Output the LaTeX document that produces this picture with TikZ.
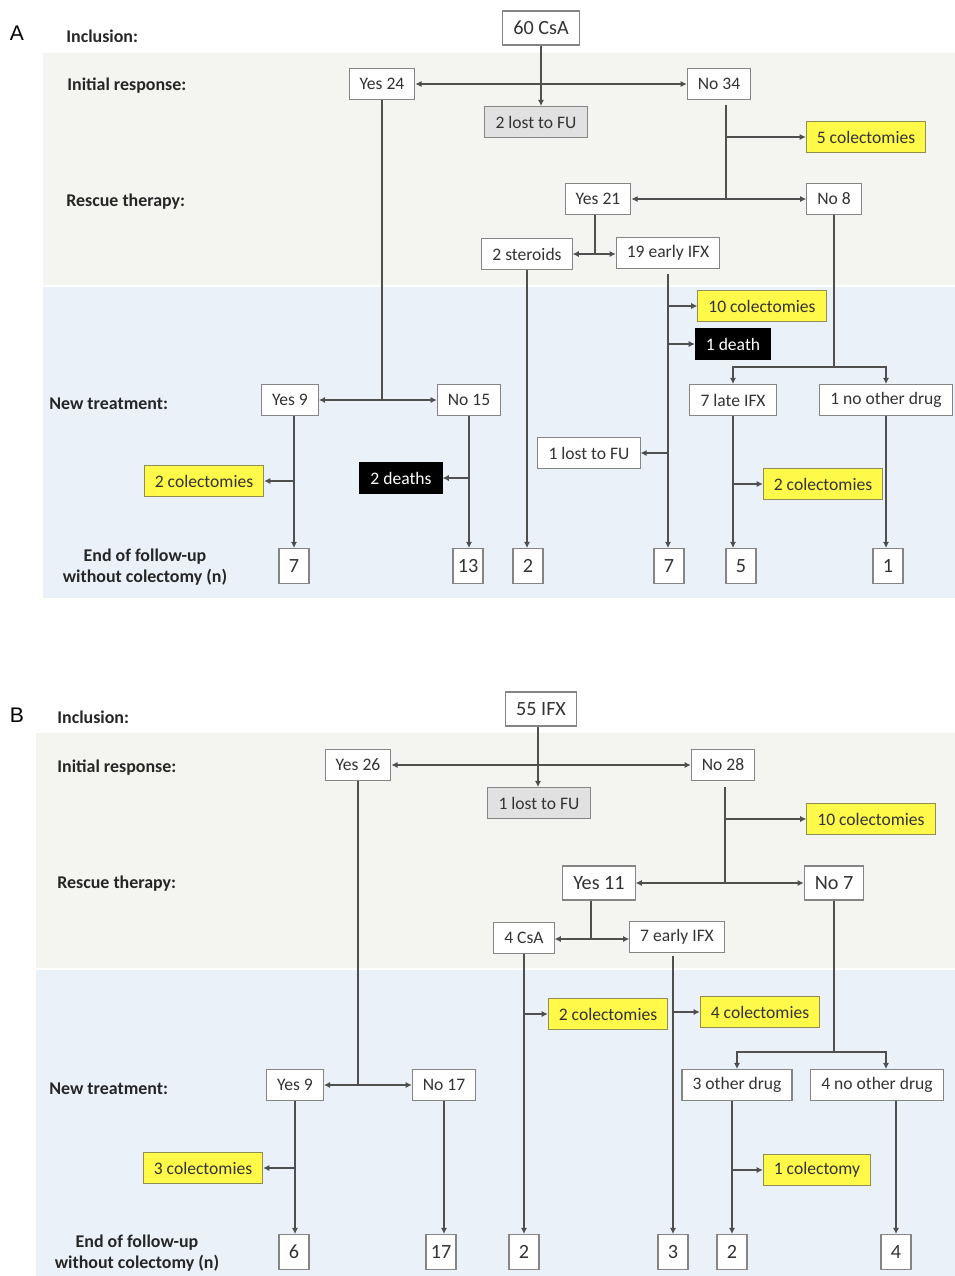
\documentclass[tikz,border=0pt]{standalone}
\usepackage{fontspec}
\setmainfont{Carlito}
\newfontfamily\panelfont{Liberation Sans}
\usetikzlibrary{arrows.meta}

\definecolor{bandgray}{HTML}{F4F4F1}
\definecolor{bandblue}{HTML}{EAF1F9}
\definecolor{boxline}{HTML}{858585}
\definecolor{flowline}{HTML}{4F4F4F}
\definecolor{hiyellow}{HTML}{FFF94A}
\definecolor{yelline}{HTML}{8F8F55}
\definecolor{lostgray}{HTML}{E1E1E1}
\definecolor{boxtext}{HTML}{333333}

\tikzset{
  box/.style={draw=boxline, fill=white, line width=0.6pt, inner xsep=6pt, inner ysep=0pt,
    minimum height=0.62cm, text=boxtext, font=\fontsize{10}{12}\selectfont},
  bigbox/.style={box, minimum height=0.68cm, font=\fontsize{11.5}{13}\selectfont},
  colbox/.style={box, fill=hiyellow, draw=yelline},
  deathbox/.style={box, fill=black, draw=black, text=white},
  lostbox/.style={box, fill=lostgray},
  endbox/.style={box, minimum width=0.6cm, minimum height=0.7cm, inner xsep=2pt,
    font=\fontsize{11.5}{13}\selectfont},
  rowlabel/.style={anchor=west, inner sep=0pt, text=black!85,
    font=\bfseries\fontsize{10.2}{12}\selectfont},
  endlabel/.style={align=center, inner sep=0pt, text=black!85,
    font=\bfseries\fontsize{10.2}{12.2}\selectfont},
  panel/.style={inner sep=0pt, font=\panelfont\fontsize{12}{14}\selectfont},
  flow/.style={draw=flowline, line width=0.6pt},
  arr/.style={flow, -{Latex[length=3.5pt,width=3.5pt]}},
  darr/.style={flow, {Latex[length=3.5pt,width=3.5pt]}-{Latex[length=3.5pt,width=3.5pt]}},
}

\begin{document}
\begin{tikzpicture}[x=0.02cm, y=-0.02cm]
  \useasboundingbox (0,0) rectangle (955,1276);

  % ===== Panel A: CsA =====
  \fill[bandgray] (43,53) rectangle (955,285);
  \fill[bandblue] (43,287) rectangle (955,598);
  \node[panel] (labA) at (17,33) {A};
  \node[rowlabel] (incA) at (66,36) {Inclusion:};
  \node[rowlabel] (iniA) at (67,86) {Initial response:};
  \node[rowlabel] (resA) at (66,202) {Rescue therapy:};
  \node[rowlabel] (newA) at (49,404) {New treatment:};
  \node[endlabel] (eofA) at (145,567) {End of follow-up\\without colectomy (n)};

  % boxes
  \node[bigbox] (csaA) at (541,28) {60 CsA};
  \node[box] (yesA) at (382,84) {Yes 24};
  \node[box] (noA) at (719,84) {No 34};
  \node[lostbox] (lostA) at (536,122) {2 lost to FU};
  \node[colbox] (colA1) at (866,137) {5 colectomies};
  \node[box] (yesRA) at (598,199) {Yes 21};
  \node[box] (noRA) at (834,199) {No 8};
  \node[box] (steA) at (527,254) {2 steroids};
  \node[box] (ifxA) at (668,253) {19 early IFX};
  \node[colbox] (colA2) at (762,306) {10 colectomies};
  \node[deathbox] (deathA1) at (733,344) {1 death};
  \node[box] (lateA) at (733,400) {7 late IFX};
  \node[box] (nodrugA) at (886,400) {1 no other drug};
  \node[box] (lostA2) at (589,453) {1 lost to FU};
  \node[colbox] (colA3) at (823,484) {2 colectomies};
  \node[box] (yesNA) at (290,400) {Yes 9};
  \node[box] (noNA) at (469,400) {No 15};
  \node[colbox] (colA4) at (204,481) {2 colectomies};
  \node[deathbox] (deathA2) at (401,478) {2 deaths};
  % end of follow-up
  \node[endbox] (endA1) at (294,566) {7};
  \node[endbox] (endA2) at (468,566) {13};
  \node[endbox] (endA3) at (528,566) {2};
  \node[endbox] (endA4) at (669,566) {7};
  \node[endbox] (endA5) at (741,566) {5};
  \node[endbox] (endA6) at (888,566) {1};

  % connectors
  \draw[arr] (csaA.south) -- (csaA.south |- lostA.north);
  \draw[darr] (yesA) -- (noA);
  \coordinate (tA1) at (726,105);
  \coordinate (bA1) at (726,199);
  \draw[flow] (tA1) -- (bA1);
  \draw[arr] (tA1 |- colA1) -- (colA1);
  \draw[arr] (bA1) -- (yesRA);
  \draw[arr] (bA1) -- (noRA);
  \coordinate (bA2) at (595,254);
  \draw[flow] (yesRA.south -| bA2) -- (bA2);
  \draw[arr] (bA2) -- (steA);
  \draw[arr] (bA2) -- (ifxA.west |- bA2);
  \draw[arr] (steA.south) -- (steA.south |- endA3.north);
  \draw[arr] ([yshift=-3pt]ifxA.south) -- (ifxA.south |- endA4.north);
  \draw[arr] (ifxA.south |- colA2) -- (colA2);
  \draw[arr] (ifxA.south |- deathA1) -- (deathA1);
  \draw[arr] (ifxA.south |- lostA2) -- (lostA2);
  \coordinate (bA3) at (833,367);
  \draw[flow] (noRA.south) -- (noRA.south |- bA3);
  \draw[arr] (noRA.south |- bA3) -| (lateA.north);
  \draw[arr] (noRA.south |- bA3) -| (nodrugA.north);
  \draw[arr] (lateA.south) -- (lateA.south |- endA5.north);
  \draw[arr] (lateA.south |- colA3) -- (colA3);
  \draw[arr] (nodrugA.south) -- (nodrugA.south |- endA6.north);
  \draw[flow] (yesA.south) -- (yesA.south |- yesNA);
  \draw[darr] (yesNA) -- (noNA);
  \draw[arr] (endA1.north |- yesNA.south) -- (endA1.north);
  \draw[arr] (endA1.north |- colA4) -- (colA4);
  \draw[arr] (noNA.south) -- (noNA.south |- endA2.north);
  \draw[arr] (noNA.south |- deathA2) -- (deathA2);

  % ===== Panel B: IFX =====
  \fill[bandgray] (36,733) rectangle (955,968);
  \fill[bandblue] (36,970) rectangle (955,1276);
  \node[panel] (labB) at (17,715) {B};
  \node[rowlabel] (incB) at (57,717) {Inclusion:};
  \node[rowlabel] (iniB) at (57,768) {Initial response:};
  \node[rowlabel] (resB) at (57,884) {Rescue therapy:};
  \node[rowlabel] (newB) at (49,1089) {New treatment:};
  \node[endlabel] (eofB) at (137,1253) {End of follow-up\\without colectomy (n)};

  % boxes
  \node[bigbox] (ifxB) at (541,709) {55 IFX};
  \node[box] (yesB) at (358,765) {Yes 26};
  \node[box] (noB) at (723,765) {No 28};
  \node[lostbox] (lostB) at (539,803) {1 lost to FU};
  \node[colbox] (colB1) at (871,819) {10 colectomies};
  \node[bigbox] (yesRB) at (599,883) {Yes 11};
  \node[bigbox] (noRB) at (834,883) {No 7};
  \node[box] (csaB) at (524,938) {4 CsA};
  \node[box] (ifxB2) at (677,937) {7 early IFX};
  \node[colbox] (colB2) at (608,1014) {2 colectomies};
  \node[colbox] (colB3) at (760,1012) {4 colectomies};
  \node[box] (otherB) at (737,1085) {3 other drug};
  \node[box] (nodrugB) at (877,1085) {4 no other drug};
  \node[colbox] (colB4) at (817,1170) {1 colectomy};
  \node[box] (yesNB) at (295,1085) {Yes 9};
  \node[box] (noNB) at (444,1085) {No 17};
  \node[colbox] (colB5) at (203,1168) {3 colectomies};
  % end of follow-up
  \node[endbox] (endB1) at (294,1252) {6};
  \node[endbox] (endB2) at (441,1252) {17};
  \node[endbox] (endB3) at (524,1252) {2};
  \node[endbox] (endB4) at (673,1252) {3};
  \node[endbox] (endB5) at (732,1252) {2};
  \node[endbox] (endB6) at (896,1252) {4};

  % connectors
  \coordinate (cB0) at (538,0);
  \draw[arr] (cB0 |- ifxB.south) -- (cB0 |- lostB.north);
  \draw[darr] (yesB) -- (noB);
  \coordinate (tB1) at (725,787);
  \coordinate (bB1) at (725,883);
  \draw[flow] (tB1) -- (bB1);
  \draw[arr] (tB1 |- colB1) -- (colB1);
  \draw[arr] (bB1) -- (yesRB);
  \draw[arr] (bB1) -- (noRB);
  \coordinate (bB2) at (591,939);
  \draw[flow] (yesRB.south -| bB2) -- (bB2);
  \draw[arr] (bB2) -- (csaB.east |- bB2);
  \draw[arr] (bB2) -- (ifxB2.west |- bB2);
  \draw[arr] (csaB.south) -- (csaB.south |- endB3.north);
  \draw[arr] (csaB.south |- colB2) -- (colB2);
  \draw[arr] (endB4.north |- 0,956) -- (endB4.north);
  \draw[arr] (endB4.north |- colB3) -- (colB3);
  \coordinate (bB3) at (834,1052);
  \draw[flow] (noRB.south) -- (bB3);
  \draw[arr] (bB3) -| (otherB.north);
  \draw[arr] (bB3) -| (886,0 |- nodrugB.north);
  \draw[arr] (endB5.north |- otherB.south) -- (endB5.north);
  \draw[arr] (endB5.north |- colB4) -- (colB4);
  \draw[arr] (endB6.north |- nodrugB.south) -- (endB6.north);
  \draw[flow] (yesB.south) -- (yesB.south |- yesNB);
  \draw[darr] (yesNB) -- (noNB);
  \draw[arr] (yesNB.south) -- (yesNB.south |- endB1.north);
  \draw[arr] (yesNB.south |- colB5) -- (colB5);
  \draw[arr] (noNB.south) -- (noNB.south |- endB2.north);
\end{tikzpicture}
\end{document}
